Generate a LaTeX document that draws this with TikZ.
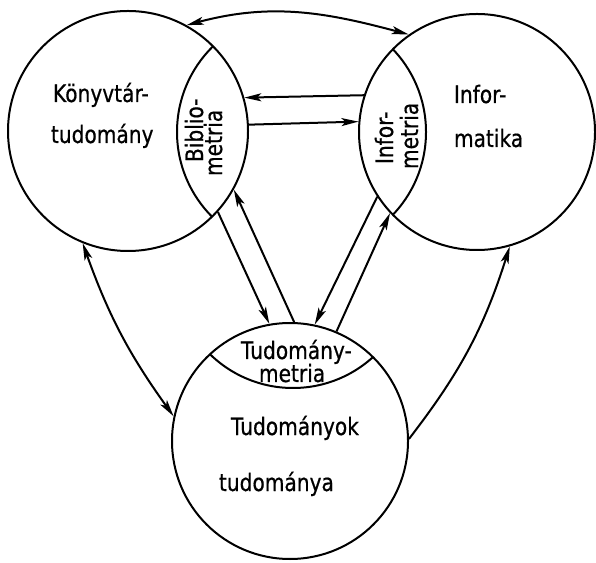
\documentclass[tikz,border=0pt]{standalone}
\usepackage{fontspec}
\setmainfont{DejaVu Sans}[FakeStretch=0.84,FakeBold=0.6]
\usetikzlibrary{arrows.meta}
\begin{document}
\begin{tikzpicture}[x=1pt,y=1pt,line width=2pt,
  disc/.style={draw,circle,inner sep=0pt},
  lbl/.style={inner sep=0pt,anchor=base west,font=\fontsize{24}{24}\selectfont},
  arr/.style={-{Stealth[length=17pt,width=8pt,inset=4pt]}},
  darr/.style={{Stealth[length=17pt,width=8pt,inset=4pt]}-{Stealth[length=17pt,width=8pt,inset=4pt]}}]
\useasboundingbox (0,0) rectangle (596,562);

% Circles
\node[disc,minimum size=240pt] (kt) at (128,431) {};
\node[disc,minimum size=236pt] (inf) at (477,430) {};
\node[disc,minimum size=236pt] (tt) at (290,121) {};

% Metria lenses
\begin{scope}
\clip (128,431) circle[radius=120];
\draw (297,430) circle[radius=120];
\end{scope}
\begin{scope}
\clip (477,430) circle[radius=118];
\draw (306,430) circle[radius=120];
\end{scope}
\begin{scope}
\clip (290,121) circle[radius=118];
\draw (293,293) circle[radius=119];
\end{scope}

% Labels
\node[lbl] (ktA) at (52,460) {Könyvtár-};
\node[lbl] (ktB) at (50,419) {tudomány};
\node[lbl] (infA) at (453,459) {Infor-};
\node[lbl] (infB) at (453,415) {matika};
\node[lbl] (ttA) at (230,127) {Tudományok};
\node[lbl] (ttB) at (218,71) {tudománya};
\node[lbl] (tmA) at (240,203) {Tudomány-};
\node[lbl] (tmB) at (258,180) {metria};
\node[lbl,rotate=90] (bmA) at (203,399) {Biblio-};
\node[lbl,rotate=90] (bmB) at (222,385) {metria};
\node[lbl,rotate=90] (imA) at (393,397) {Infor-};
\node[lbl,rotate=90] (imB) at (418,392) {metria};

% Connectors
\draw[darr] (kt.61) to[out=15,in=165] (inf.125);
\draw[arr] (inf.162.75) -- (kt.16.5);
\draw[arr] (kt.3.8) -- (inf.175.6);
\draw[arr] (kt.-42) -- (tt.100);
\draw[arr] (tt.88.6) -- (kt.-29.4);
\draw[arr] (inf.213) -- (tt.78);
\draw[arr] (tt.67.4) -- (inf.223);
\draw[darr] (kt.248.8) to[bend right=8] (tt.168);
\draw[arr] (tt.1.5) to[bend right=10] (inf.286.5);
\end{tikzpicture}
\end{document}
